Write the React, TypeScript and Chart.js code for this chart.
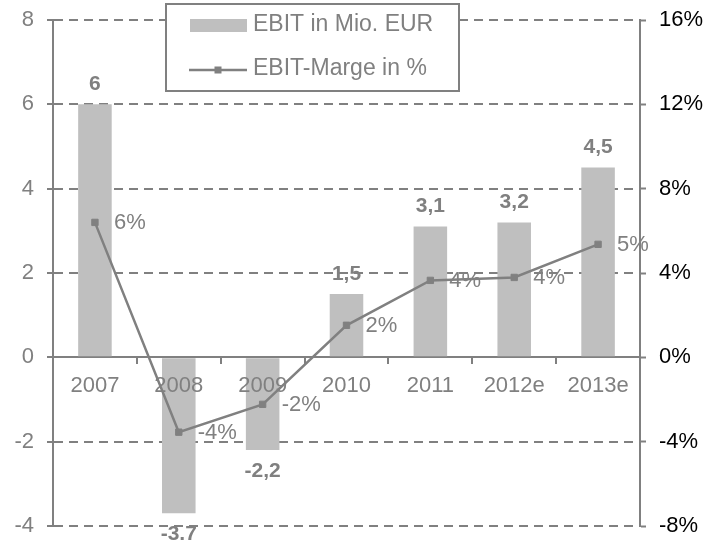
import React, { useEffect, useRef } from 'react';
import { Chart, registerables } from 'chart.js';

Chart.register(...registerables);

const categories = ['2007', '2008', '2009', '2010', '2011', '2012e', '2013e'];
const ebit = [6, -3.7, -2.2, 1.5, 3.1, 3.2, 4.5];
const margin = [6.4, -3.55, -2.23, 1.52, 3.65, 3.79, 5.36];
const leftTicks = [-4, -2, 0, 2, 4, 6, 8];
const rightTicks = [-8, -4, 0, 4, 8, 12, 16];
const legendLabels = ['EBIT in Mio. EUR', 'EBIT-Marge in %'];

const GRAY = '#808080';
const BAR = '#BFBFBF';
const FONT = 'Arial, "Liberation Sans", sans-serif';

const valueLabels = {
  id: 'valueLabels',
  afterDatasetsDraw(chart: any) {
    const ctx = chart.ctx;
    ctx.save();
    const barMeta = chart.getDatasetMeta(1);
    ctx.fillStyle = GRAY;
    ctx.textAlign = 'center';
    ctx.textBaseline = 'middle';
    ctx.font = `bold 21px ${FONT}`;
    barMeta.data.forEach((el: any, i: number) => {
      const v = ebit[i];
      const { x, y } = el.getProps(['x', 'y'], true);
      ctx.fillText(String(v).replace('.', ','), x, v >= 0 ? y - 20 : y + 21);
    });
    const lineMeta = chart.getDatasetMeta(0);
    ctx.textAlign = 'left';
    ctx.font = `22px ${FONT}`;
    lineMeta.data.forEach((el: any, i: number) => {
      const { x, y } = el.getProps(['x', 'y'], true);
      ctx.fillText(Math.round(margin[i]) + '%', x + 19, y + 1);
    });
    ctx.restore();
  },
};

const boxLegend = {
  id: 'boxLegend',
  afterDraw(chart: any) {
    const ctx = chart.ctx;
    ctx.save();
    ctx.fillStyle = '#ffffff';
    ctx.fillRect(166, 3, 293, 88);
    ctx.strokeStyle = GRAY;
    ctx.lineWidth = 2;
    ctx.strokeRect(166, 4, 293, 87);
    ctx.fillStyle = BAR;
    ctx.fillRect(190, 19, 57, 13);
    ctx.strokeStyle = GRAY;
    ctx.lineWidth = 2.5;
    ctx.beginPath();
    ctx.moveTo(189, 70);
    ctx.lineTo(247, 70);
    ctx.stroke();
    ctx.fillStyle = GRAY;
    ctx.fillRect(214.5, 66.5, 7, 7);
    ctx.font = `23px ${FONT}`;
    ctx.textAlign = 'left';
    ctx.textBaseline = 'middle';
    ctx.fillStyle = GRAY;
    ctx.fillText(legendLabels[0], 253, 25);
    ctx.fillText(legendLabels[1], 253, 69);
    ctx.restore();
  },
};

export default function App() {
  const ref = useRef<HTMLCanvasElement>(null);
  useEffect(() => {
    if (!ref.current) return;
    Chart.defaults.font.family = FONT;
    const chart = new Chart(ref.current, {
      type: 'bar',
      data: {
        labels: categories,
        datasets: [
          {
            type: 'line',
            label: legendLabels[1],
            data: margin,
            yAxisID: 'y1',
            borderColor: GRAY,
            backgroundColor: GRAY,
            borderWidth: 2.5,
            pointStyle: 'rect',
            pointRadius: 4.5,
            pointBorderWidth: 1,
            tension: 0,
            order: 0,
          } as any,
          {
            type: 'bar',
            label: legendLabels[0],
            data: ebit,
            yAxisID: 'y',
            backgroundColor: BAR,
            barPercentage: 0.4,
            categoryPercentage: 1,
            order: 1,
          },
        ],
      },
      options: {
        responsive: false,
        animation: false,
        layout: { padding: { top: 20, bottom: 14, left: 0, right: 0 } },
        plugins: {
          legend: { display: false },
          tooltip: { enabled: false },
        },
        scales: {
          x: {
            position: { y: 0 } as any,
            afterFit: (s: any) => {
              s.paddingLeft = 0;
              s.paddingRight = 0;
            },
            grid: {
              offset: true,
              drawOnChartArea: false,
              drawTicks: true,
              tickLength: 6,
              tickColor: GRAY,
              tickWidth: 2,
              color: GRAY,
              lineWidth: 2,
            },
            border: { display: true, color: GRAY, width: 2 },
            ticks: {
              z: 1,
              color: GRAY,
              font: { size: 22, family: FONT },
              padding: 9,
              maxRotation: 0,
              autoSkip: false,
            },
          },
          y: {
            position: 'left',
            min: -4,
            max: 8,
            afterBuildTicks: (s: any) => {
              s.ticks = leftTicks.map((v) => ({ value: v }));
            },
            afterFit: (s: any) => {
              s.width = 53;
              s.paddingTop = 0;
              s.paddingBottom = 0;
            },
            grid: {
              color: (c: any) => (c.tick && c.tick.value === 0 ? 'rgba(0,0,0,0)' : GRAY),
              lineWidth: 2,
              tickLength: 6,
              tickColor: GRAY,
              tickWidth: 2,
            },
            border: { display: true, color: GRAY, width: 2, dash: [9, 6] },
            ticks: {
              color: GRAY,
              font: { size: 22, family: FONT },
              padding: 13,
              callback: (v: any) => String(v),
            },
          },
          y1: {
            position: 'right',
            min: -8,
            max: 16,
            afterBuildTicks: (s: any) => {
              s.ticks = rightTicks.map((v) => ({ value: v }));
            },
            afterFit: (s: any) => {
              s.width = 69;
              s.paddingTop = 0;
              s.paddingBottom = 0;
            },
            grid: {
              drawOnChartArea: false,
              tickLength: 6,
              tickColor: GRAY,
              tickWidth: 2,
              color: GRAY,
            },
            border: { display: true, color: GRAY, width: 2 },
            ticks: {
              color: '#000000',
              font: { size: 22, family: FONT },
              padding: 13,
              callback: (v: any) => v + '%',
            },
          },
        },
      },
      plugins: [valueLabels, boxLegend],
    });
    return () => chart.destroy();
  }, []);
  return (
    <div style={{ position: 'fixed', left: 0, top: 0, width: 709, height: 540, background: '#fff' }}>
      <canvas ref={ref} width={709} height={540} style={{ width: 709, height: 540, display: 'block' }} />
    </div>
  );
}
